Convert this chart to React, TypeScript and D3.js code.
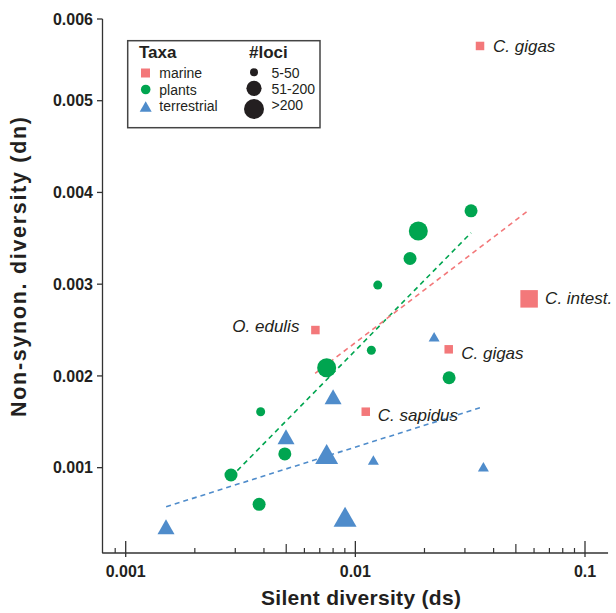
import React from "react";
import * as d3 from "d3";

const FONT = "'Liberation Sans', Arial, Helvetica, sans-serif";
const RED = "#F3787A";
const GREEN = "#00A550";
const BLUE = "#4F8CCB";
const INK = "#231F20";

// Plants (green circles)
const plantsDs = [0.0319, 0.0188, 0.0173, 0.01252, 0.01174, 0.0256, 0.0075, 0.00387, 0.00493, 0.002874, 0.00381];
const plantsDn = [0.0038, 0.00358, 0.00328, 0.00299, 0.00228, 0.00198, 0.00209, 0.00161, 0.00115, 0.00092, 0.0006];
const plantsLoci = [1, 2, 1, 0, 0, 1, 2, 0, 1, 1, 1];

// Marine (red squares)
const marineNames = ["C. gigas", "O. edulis", "C. intest.", "C. gigas", "C. sapidus"];
const marineDs = [0.0349, 0.0067, 0.0571, 0.0255, 0.0111];
const marineDn = [0.00567, 0.0025, 0.00284, 0.00229, 0.00161];
const marineLoci = [0, 0, 2, 0, 0];

// Terrestrial (blue triangles)
const terrDs = [0.02203, 0.01198, 0.0361, 0.008, 0.00499, 0.0075, 0.00902, 0.001498];
const terrDn = [0.002427, 0.001083, 0.00101, 0.001773, 0.001337, 0.001149, 0.000465, 0.000356];
const terrLoci = [0, 0, 0, 1, 1, 2, 2, 1];

// Fit lines (dashed), endpoints [ds, dn]
const fitTaxa = ["terrestrial", "plants", "marine"];
const fitStart = [[0.0015, 0.000574], [0.002874, 0.000898], [0.00668, 0.002028]];
const fitEnd = [[0.0361, 0.001664], [0.0319, 0.00356], [0.0558, 0.00379]];

const xMajor = [0.001, 0.01, 0.1];
const xMajorLabels = ["0.001", "0.01", "0.1"];
const yTicks = [0.001, 0.002, 0.003, 0.004, 0.005, 0.006];
const yTickLabels = ["0.001", "0.002", "0.003", "0.004", "0.005", "0.006"];

const taxaLegend = ["marine", "plants", "terrestrial"];
const lociLegend = ["5-50", "51-200", ">200"];

// label placement (layout only)
const marineLabelDx = [13, -16, 16, 12.5, 12];
const marineLabelDy = [5.7, 2, 5, 9.5, 9.5];
const marineLabelAnchor = ["start", "end", "start", "start", "start"];

const circleR = [4.5, 6.5, 9.5];
const squareS = [8.5, 13, 17.5];
const triW = [11, 17, 23];

function tri(cx: number, cy: number, w: number) {
  const h = w * 0.87;
  return `M${cx},${cy - h / 2}L${cx + w / 2},${cy + h / 2}L${cx - w / 2},${cy + h / 2}Z`;
}

export default function App() {
  const x = d3.scaleLog().domain([0.001, 0.1]).range([125.7, 585]);
  const y = d3.scaleLinear().domain([0, 0.005, 0.006]).range([559.4, 100.7, 19]);
  const axisY = 553;
  const axisX = 102.5;

  const minor: number[] = [0.0009];
  [0.001, 0.01].forEach((dec) => {
    for (let k = 2; k <= 9; k++) minor.push(dec * k);
  });

  const fitColor: Record<string, string> = { terrestrial: BLUE, plants: GREEN, marine: RED };
  const line = d3.line<number[]>().x((d) => x(d[0])).y((d) => y(d[1]));

  return (
    <svg width={616} height={613} style={{ position: "absolute", left: 0, top: 0, background: "#fff" }} fontFamily={FONT}>
      <rect width={616} height={613} fill="#fff" />
      {/* axes */}
      <line x1={axisX} x2={axisX} y1={y(0.006)} y2={axisY} stroke="#333" strokeWidth={1.3} />
      <line x1={x(0.00079)} x2={x(0.126)} y1={axisY} y2={axisY} stroke="#333" strokeWidth={1.3} />
      {yTicks.map((t, i) => (
        <g key={"yt" + i}>
          <line x1={axisX - 5.5} x2={axisX} y1={y(t)} y2={y(t)} stroke="#333" strokeWidth={1.3} />
          <text x={93} y={y(t)} dy="0.36em" textAnchor="end" fontSize={16} fontWeight="bold" fill={INK}>
            {yTickLabels[i]}
          </text>
        </g>
      ))}
      {minor.map((t, i) => {
        const mid = Math.abs(t - 0.005) < 1e-9 || Math.abs(t - 0.05) < 1e-9;
        return (
          <line key={"mn" + i} x1={x(t)} x2={x(t)} y1={mid ? axisY - 9 : axisY - 5} y2={axisY} stroke="#333" strokeWidth={1.2} />
        );
      })}
      {xMajor.map((t, i) => (
        <g key={"xt" + i}>
          <line x1={x(t)} x2={x(t)} y1={axisY - 12} y2={axisY + 4} stroke="#333" strokeWidth={1.3} />
          <text x={x(t)} y={577} textAnchor="middle" fontSize={16} fontWeight="bold" fill={INK}>
            {xMajorLabels[i]}
          </text>
        </g>
      ))}
      <text x={361} y={605} textAnchor="middle" fontSize={21} fontWeight="bold" fill={INK} textLength={200} lengthAdjust="spacing">
        Silent diversity (ds)
      </text>
      <text transform={`translate(25.5,${267}) rotate(-90)`} textAnchor="middle" fontSize={21.5} fontWeight="bold" fill={INK} textLength={300} lengthAdjust="spacing">
        Non-synon. diversity (dn)
      </text>

      {/* fit lines */}
      {fitTaxa.map((t, i) => (
        <path key={"fit" + i} d={line([fitStart[i], fitEnd[i]]) || ""} fill="none" stroke={fitColor[t]} strokeWidth={1.6} strokeDasharray="5,4" />
      ))}

      {/* plants */}
      {plantsDs.map((d, i) => (
        <circle key={"p" + i} cx={x(d)} cy={y(plantsDn[i])} r={circleR[plantsLoci[i]]} fill={GREEN} />
      ))}
      {/* terrestrial */}
      {terrDs.map((d, i) => (
        <path key={"t" + i} d={tri(x(d), y(terrDn[i]), triW[terrLoci[i]])} fill={BLUE} />
      ))}
      {/* marine */}
      {marineDs.map((d, i) => {
        const s = squareS[marineLoci[i]];
        const cx = x(d);
        const cy = y(marineDn[i]);
        return (
          <g key={"m" + i}>
            <rect x={cx - s / 2} y={cy - s / 2} width={s} height={s} fill={RED} />
            <text x={cx + marineLabelDx[i]} y={cy + marineLabelDy[i]} textAnchor={marineLabelAnchor[i] as any} fontSize={17} fontStyle="italic" fill={INK}>
              {marineNames[i]}
            </text>
          </g>
        );
      })}

      {/* legend */}
      <g>
        <rect x={127.7} y={40.7} width={192.3} height={87} fill="#fff" stroke="#444" strokeWidth={1.5} />
        <text x={139} y={57.5} fontSize={17} fontWeight="bold" fill={INK}>Taxa</text>
        <text x={249} y={57.5} fontSize={17} fontWeight="bold" fill={INK}>#loci</text>
        {taxaLegend.map((t, i) => {
          const cy = 73 + i * 16.5;
          return (
            <g key={"lg" + i}>
              {t === "marine" && <rect x={145.5 - 4.5} y={cy - 4.5} width={9} height={9} fill={RED} />}
              {t === "plants" && <circle cx={145.7} cy={cy} r={4.8} fill={GREEN} />}
              {t === "terrestrial" && <path d={tri(145.7, cy + 0.5, 12)} fill={BLUE} />}
              <text x={159.3} y={cy + 5} fontSize={14} fill={INK}>{t}</text>
            </g>
          );
        })}
        {lociLegend.map((t, i) => {
          const cys = [72.3, 88.3, 109];
          const rs = [4, 7.6, 10];
          const tys = [77.5, 93.5, 110];
          return (
            <g key={"ll" + i}>
              <circle cx={254} cy={cys[i]} r={rs[i]} fill={INK} />
              <text x={271.5} y={tys[i]} fontSize={14} fill={INK}>{t}</text>
            </g>
          );
        })}
      </g>
    </svg>
  );
}
